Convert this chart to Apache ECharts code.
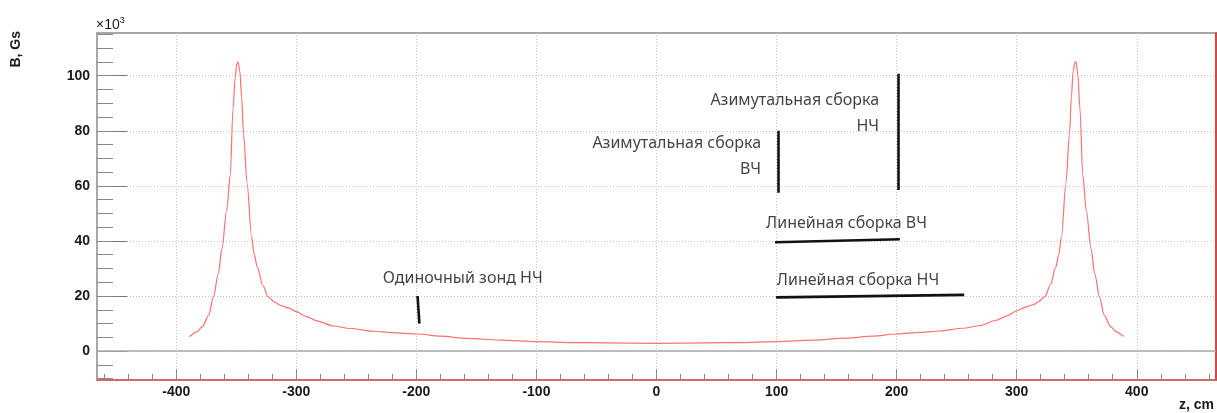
<!DOCTYPE html>
<html>
<head>
<meta charset="utf-8">
<script src="https://cdn.jsdelivr.net/npm/echarts@6/dist/echarts.min.js"></script>
<style>
html,body{margin:0;padding:0;background:#fff;}
#chart{width:1217px;height:413px;}
</style>
</head>
<body>
<div id="chart"></div>
<script>
// Field profile: z (cm) and B (x10^3 Gs)
const zValues = [
  -389, -383, -378, -373, -369, -365, -362, -358, -355, -352.7, -351, -349.5, -348.5, -347, -345.5, -344, -341, -337.3, -335, -332.6,
  -328, -323.5, -318, -313.8, -306, -300, -292, -283, -269, -255, -236, -220, -198.5, -180, -158, -130, -100, -70, -44, 0,
  44, 70, 100, 130, 158, 180, 200, 220, 236, 255, 269, 283, 292, 300, 306, 314, 318, 323.5, 328, 332.6,
  335, 337.3, 341, 344, 345.5, 347, 348.5, 349.5, 351, 352.7, 355, 358, 362, 365, 369, 373, 378, 383, 389
];
const bValues = [
  5.2, 7.0, 9.0, 13.0, 19.7, 28.0, 37.0, 51.0, 64.0, 88.0, 99.0, 104.5, 105.0, 101.5, 92.0, 79.0, 61.0, 41.6, 35.0, 30.7,
  24.0, 19.7, 17.8, 16.7, 15.6, 14.3, 12.6, 11.0, 9.1, 8.2, 7.2, 6.7, 6.2, 5.4, 4.6, 4.0, 3.4, 3.1, 3.0, 2.8,
  3.0, 3.1, 3.4, 4.0, 4.7, 5.4, 6.2, 6.8, 7.3, 8.3, 9.2, 11.2, 12.8, 14.6, 15.8, 16.9, 17.9, 19.8, 24.0, 30.5,
  35.0, 41.5, 61.0, 79.0, 92.0, 101.5, 104.8, 105.0, 100.0, 88.0, 64.0, 51.0, 37.0, 28.0, 19.5, 13.0, 9.0, 7.0, 5.3
];

// Axis ticks
const xMajorTicks = [-400, -300, -200, -100, 0, 100, 200, 300, 400];
const xMinorTicks = [-460, -440, -420, -400, -380, -360, -340, -320, -300, -280, -260, -240, -220, -200, -180, -160, -140, -120, -100, -80, -60, -40, -20, 0,
  20, 40, 60, 80, 100, 120, 140, 160, 180, 200, 220, 240, 260, 280, 300, 320, 340, 360, 380, 400, 420, 440, 460];
const yMajorTicks = [0, 20, 40, 60, 80, 100];
const yMinorTicks = [-10, -5, 0, 5, 10, 15, 20, 25, 30, 35, 40, 45, 50, 55, 60, 65, 70, 75, 80, 85, 90, 95, 100, 105, 110, 115];
const xRange = [-466, 466];
const yRange = [-10.5, 115.5];

// Annotation marker segments (data coords)
const singleProbeLF = [[-199, 20], [-197.5, 10]];
const azimuthalHF = [[101, 80], [101, 57.5]];
const azimuthalLF = [[201.5, 100.7], [201.5, 58.5]];
const linearHF = [[98.75, 39.5], [202.7, 40.6]];
const linearLF = [[99.6, 19.5], [256.25, 20.4]];

// Annotation texts: [z, B, text, anchor]
const annotationTexts = [
  [-228, 26.5, 'Одиночный зонд НЧ', 'left'],
  [185.4, 86.4, 'Азимутальная сборка\nНЧ', 'right'],
  [87.1, 70.8, 'Азимутальная сборка\nВЧ', 'right'],
  [91.25, 46.5, 'Линейная сборка ВЧ', 'left'],
  [100.2, 25.8, 'Линейная сборка НЧ', 'left']
];

const curve = zValues.map((z, i) => [z, bValues[i]]);
const tickFont = {fontFamily: 'Liberation Sans', fontWeight: 'bold', fontSize: 14, color: '#1a1a1a'};
const annFont = 'Noto Sans';

const chart = echarts.init(document.getElementById('chart'), null, {renderer: 'canvas'});
chart.setOption({
  animation: false,
  backgroundColor: '#ffffff',
  grid: {left: 97, right: 1, top: 33, bottom: 33, containLabel: false,
    show: true, borderColor: '#a8a8a8', borderWidth: 2, backgroundColor: 'transparent'},
  xAxis: [
    {
      type: 'value', min: xRange[0], max: xRange[1], position: 'bottom',
      axisLine: {show: true, onZero: false, lineStyle: {color: '#dd5555', width: 1.5}},
      axisTick: {show: true, inside: true, length: 11, customValues: xMajorTicks, lineStyle: {color: '#888', width: 1}},
      axisLabel: Object.assign({show: true, margin: 5, customValues: xMajorTicks}, tickFont),
      splitLine: {show: true, lineStyle: {color: '#c4c4c4', width: 1, type: [1, 2]}},
      minorTick: {show: false}
    },
    {
      type: 'value', min: xRange[0], max: xRange[1], position: 'bottom',
      axisLine: {show: false, onZero: false},
      axisTick: {show: true, inside: true, length: 6, customValues: xMinorTicks, lineStyle: {color: '#888', width: 1}},
      axisLabel: {show: false},
      splitLine: {show: false}
    }
  ],
  yAxis: [
    {
      type: 'value', min: yRange[0], max: yRange[1], position: 'left',
      axisLine: {show: true, onZero: false, lineStyle: {color: '#a8a8a8', width: 2}},
      axisTick: {show: true, inside: true, length: 30, customValues: yMajorTicks, lineStyle: {color: '#777', width: 1}},
      axisLabel: Object.assign({show: true, margin: 7, customValues: yMajorTicks}, tickFont),
      splitLine: {show: true, lineStyle: {color: '#c4c4c4', width: 1, type: [1, 2]}}
    },
    {
      type: 'value', min: yRange[0], max: yRange[1], position: 'left',
      axisLine: {show: false, onZero: false},
      axisTick: {show: true, inside: true, length: 16, customValues: yMinorTicks, lineStyle: {color: '#888', width: 1}},
      axisLabel: {show: false}, splitLine: {show: false}
    },
    {
      type: 'value', min: yRange[0], max: yRange[1], position: 'right',
      axisLine: {show: true, onZero: false, lineStyle: {color: '#d04848', width: 2}},
      axisTick: {show: false}, axisLabel: {show: false}, splitLine: {show: false}
    }
  ],
  series: [
    {
      name: 'B(z)', type: 'line', data: curve, xAxisIndex: 0, yAxisIndex: 0,
      showSymbol: false, smooth: 0.3, smoothMonotone: 'x',
      lineStyle: {color: '#ff7070', width: 1.2}, z: 3,
      markLine: {
        silent: true, symbol: 'none', label: {show: false},
        lineStyle: {color: '#aaaaaa', width: 1.6, type: 'solid'},
        data: [{yAxis: 0}]
      }
    },
    {
      name: 'markers', type: 'lines', coordinateSystem: 'cartesian2d', xAxisIndex: 0, yAxisIndex: 0,
      lineStyle: {color: '#111', width: 2.6, opacity: 1}, z: 4,
      data: [singleProbeLF, azimuthalHF, azimuthalLF, linearHF, linearLF].map(c => ({coords: c}))
    },
    {
      name: 'labels', type: 'scatter', xAxisIndex: 0, yAxisIndex: 0, symbolSize: 0, z: 5,
      data: annotationTexts.map(a => ({
        value: [a[0], a[1]],
        label: {
          show: true, position: [0, 0], formatter: a[2], align: a[3], verticalAlign: 'middle',
          fontFamily: annFont, fontSize: 16, lineHeight: 26, color: '#111111'
        }
      }))
    }
  ],
  graphic: [
    {type: 'text', x: 16, y: 31, rotation: Math.PI / 2,
      style: {text: 'B, Gs', font: 'bold 14px "Liberation Sans"', fill: '#1a1a1a', align: 'right', verticalAlign: 'middle'}},
    {type: 'text', x: 96, y: 32,
      style: {text: '{a|×10}{b|3}', rich: {a: {fontFamily: 'Liberation Sans', fontSize: 14, fill: '#1a1a1a', verticalAlign: 'bottom'}, b: {fontFamily: 'Liberation Sans', fontSize: 9, fill: '#1a1a1a', padding: [0, 0, 7, 0]}}, align: 'left', verticalAlign: 'bottom'}},
    {type: 'text', x: 1214, y: 405,
      style: {text: 'z, cm', font: 'bold 14px "Liberation Sans"', fill: '#1a1a1a', align: 'right', verticalAlign: 'middle'}}
  ]
});
</script>
</body>
</html>
